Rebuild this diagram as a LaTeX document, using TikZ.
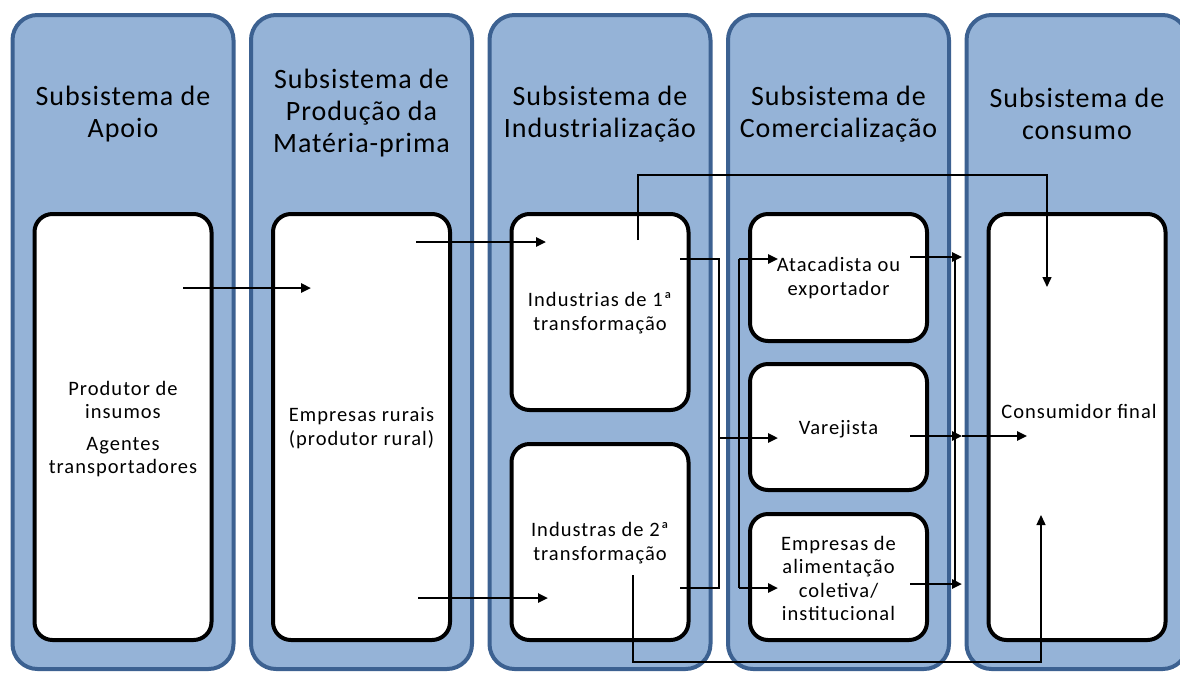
\documentclass[tikz,border=0pt]{standalone}
\usepackage{fontspec}
\setmainfont{Carlito}
\newfontfamily\ttlfont[LetterSpace=3.5]{Carlito}
\newfontfamily\boxfont[LetterSpace=5]{Carlito}
\usepackage{tikz}
\usetikzlibrary{arrows.meta}
\definecolor{colfill}{HTML}{95B3D7}
\definecolor{colline}{HTML}{3C6191}
\definecolor{ink}{HTML}{000000}
\tikzset{
  col/.style={draw=colline, fill=colfill, line width=4pt, rounded corners=25pt, minimum width=221pt, minimum height=654pt, inner sep=0pt},
  box/.style={draw=ink, fill=white, line width=4pt, rounded corners=18pt, minimum width=177pt, inner sep=0pt},
  ttl/.style={text=ink, align=center, font=\ttlfont\fontsize{28}{32}\selectfont, inner sep=0pt},
  txt/.style={text=ink, align=center, font=\boxfont\fontsize{20.5}{23.5}\selectfont, inner sep=0pt},
  flow/.style={draw=ink, line width=2.4pt, -{Triangle[length=10pt,width=9pt]}},
  link/.style={draw=ink, line width=1.4pt},
  linka/.style={draw=ink, line width=1.4pt, -{Triangle[length=10pt,width=9pt]}},
}

\begin{document}
\begin{tikzpicture}[x=1pt,y=-1pt]
  \useasboundingbox (0,0) rectangle (1180,673);

  % columns and titles
  \foreach \k/\cx/\cy/\t in {1/123/114/{Subsistema de\\Apoio},
      2/361.5/113/{Subsistema de\\Produção da\\Matéria-prima},
      3/600/114/{Subsistema de\\Industrialização},
      4/838.5/114/{Subsistema de\\Comercialização},
      5/1077/114/{Subsistema de\\consumo}}{
    \node[col] (col\k) at (\cx,342) {};
    \node[ttl] (ttl\k) at (\cx,\cy) {\t};
  }

  % Apoio box
  \node[box, minimum height=426pt] (apoio) at (123,427) {};
  \node[txt] (tapoio) at (123,429) {Produtor de\\insumos\\[8pt]Agentes\\transportadores};

  % Producao box
  \node[box, minimum height=426pt] (rural) at (361.5,427) {};
  \node[txt] (trural) at (361.5,428) {Empresas rurais\\(produtor rural)};

  % Industria boxes
  \node[box, minimum height=196pt] (ind1) at (600,312) {};
  \node[txt] (tind1) at (600,313) {Industrias de 1ª\\transformação};
  \node[box, minimum height=196pt] (ind2) at (600,542) {};
  \node[txt] (tind2) at (600,543) {Industras de 2ª\\transformação};

  % Comercializacao boxes
  \node[box, minimum height=127pt] (atac) at (838.5,277.5) {};
  \node[txt] (tatac) at (838.5,278) {Atacadista ou\\exportador};
  \node[box, minimum height=126pt] (varej) at (838.5,427) {};
  \node[txt] (tvarej) at (838.5,429) {Varejista};
  \node[box, minimum height=126pt] (emp) at (838.5,577) {};
  \node[txt] (temp) at (838.5,578.5) {Empresas de\\alimentação\\coletiva/\\institucional};

  % Consumo box
  \node[box, minimum height=426pt] (cons) at (1077,427) {};
  \node[txt] (tcons) at (1079,411) {Consumidor final};

  % arrow ends
  \coordinate (apOut) at (183,288);
  \coordinate (ruIn) at (311,288);
  \coordinate (ruOut1) at (416,242);
  \coordinate (i1In) at (546,242);
  \coordinate (ruOut2) at (418,598);
  \coordinate (i2In) at (548,598);
  \coordinate (i1Top) at (638,240);
  \coordinate (coTop) at (1047,287);
  \coordinate (i1Out) at (680,259);
  \coordinate (i2Out) at (680,588);
  \coordinate (busA) at (719,438);
  \coordinate (vaIn) at (778,438);
  \coordinate (busB1) at (739,259);
  \coordinate (busB2) at (739,588);
  \coordinate (atIn) at (778,259);
  \coordinate (emIn) at (778,588);
  \coordinate (atOut) at (910,257);
  \coordinate (vaOut) at (910,436);
  \coordinate (emOut) at (910,584);
  \coordinate (busC1) at (962,257);
  \coordinate (busC2) at (962,436);
  \coordinate (busC3) at (962,584);
  \coordinate (coIn) at (1027,436);
  \coordinate (i2Low) at (633,575);
  \coordinate (coLow) at (1041,515);

  % flows
  \draw[flow] (apOut) -- (ruIn);
  \draw[flow] (ruOut1) -- (i1In);
  \draw[flow] (ruOut2) -- (i2In);
  \draw[linka] (i1Top) -- ++(0,-65) -| (coTop);
  \draw[link] (i1Out) -| (busA) |- (i2Out);
  \draw[flow] (busA) -- (vaIn);
  \draw[link] (busB1) -- (busB2);
  \draw[flow] (busB1) -- (atIn);
  \draw[flow] (busB2) -- (emIn);
  \draw[link] ([xshift=-7pt]busC1) -- ([xshift=-7pt]busC3);
  \draw[flow] (atOut) -- (busC1);
  \draw[flow] (vaOut) -- (busC2);
  \draw[flow] (emOut) -- (busC3);
  \draw[flow] (busC2) -- (coIn);
  \draw[linka] (i2Low) -- ++(0,87) -| (coLow);
\end{tikzpicture}
\end{document}
